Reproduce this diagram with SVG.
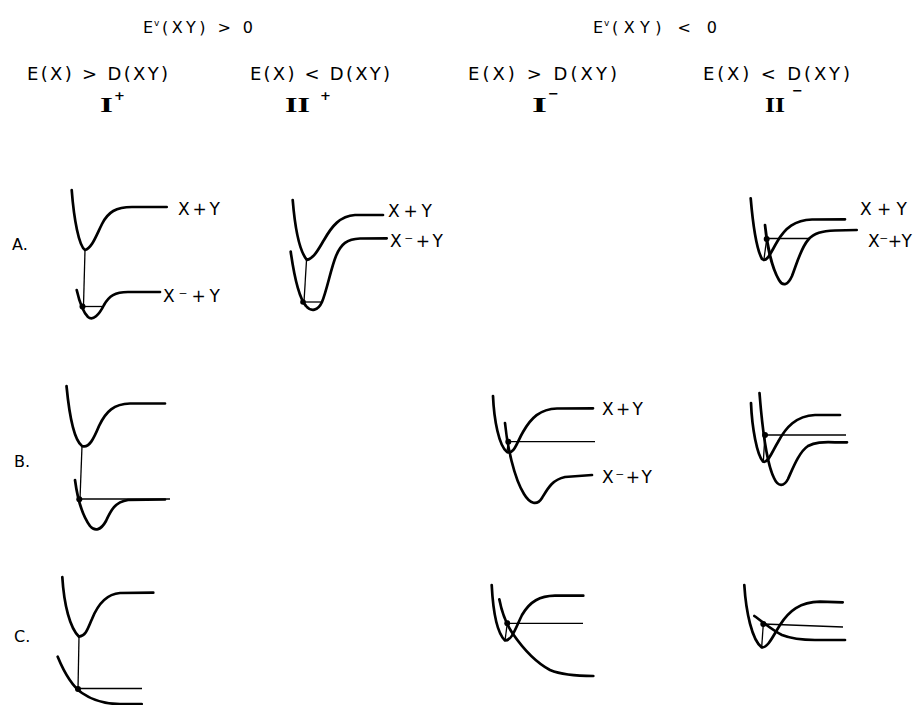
<svg xmlns="http://www.w3.org/2000/svg" width="919" height="705" viewBox="0 0 919 705">
<style>
.t{font-family:"DejaVu Sans","Liberation Sans",Arial,sans-serif;fill:#000}
.h{font-size:18px}
.hs{font-size:16px}
.lb{font-size:17px}
.rn{font-family:"Liberation Serif","DejaVu Serif",serif;font-size:21px;font-weight:bold;fill:#000}
.sup{font-family:"DejaVu Sans","Liberation Sans",sans-serif;font-size:13px;font-weight:bold;fill:#000}
.c{fill:none;stroke:#000;stroke-width:2.7;stroke-linecap:round;stroke-linejoin:round}
.l{fill:none;stroke:#000;stroke-width:1.3}
.d{fill:#000}
</style>
<rect width="919" height="705" fill="#fff"/>

<g id="headers">
  <text class="t hs" x="143" y="33">E</text>
  <text class="t" x="154" y="26" font-size="9">v</text>
  <text class="t hs" x="162" y="33" textLength="91" lengthAdjust="spacing">(XY) &gt; 0</text>
  <text class="t hs" x="593" y="33">E</text>
  <text class="t" x="604" y="26" font-size="9">v</text>
  <text class="t hs" x="612" y="33" textLength="105" lengthAdjust="spacing">(XY) &lt; 0</text>

  <text class="t h" x="27" y="80" textLength="141" lengthAdjust="spacing">E(X) &gt; D(XY)</text>
  <text class="t h" x="250" y="80" textLength="140" lengthAdjust="spacing">E(X) &lt; D(XY)</text>
  <text class="t h" x="468" y="80" textLength="149" lengthAdjust="spacing">E(X) &gt; D(XY)</text>
  <text class="t h" x="703" y="80" textLength="147" lengthAdjust="spacing">E(X) &lt; D(XY)</text>

  <text class="rn" x="100" y="112" textLength="13" lengthAdjust="spacingAndGlyphs">I</text>
  <text class="sup" x="114" y="100">+</text>
  <text class="rn" x="285" y="112" textLength="25" lengthAdjust="spacingAndGlyphs">II</text>
  <text class="sup" x="320" y="100">+</text>
  <text class="rn" x="532" y="112" textLength="15" lengthAdjust="spacingAndGlyphs">I</text>
  <text class="sup" x="548" y="98">−</text>
  <text class="rn" x="765" y="112" textLength="20" lengthAdjust="spacingAndGlyphs">II</text>
  <text class="sup" x="792" y="95">−</text>
</g>

<g id="row-labels">
  <text class="t" font-size="16" x="12" y="250">A.</text>
  <text class="t" font-size="16" x="14" y="467">B.</text>
  <text class="t" font-size="16" x="14" y="642">C.</text>
</g>

<g id="panel-A-Iplus">
  <path class="c" d="M71.7,190 C74,220 79,246 85,250 C92,248 96,236 102,224 C108,212 116,207 132,207 L166.7,207"/>
  <path class="c" d="M76.7,290 C79,300 83,312 88,317 C93,321 99,315 104,305 C109,296 115,292 128,292 L160,292"/>
  <path class="l" d="M85,250 L83.5,306"/>
  <path class="l" d="M82.5,306.5 L103,306.5"/>
  <circle class="d" cx="82.5" cy="306.5" r="3"/>
  <text class="t lb" x="178" y="215" textLength="42" lengthAdjust="spacing">X+Y</text>
  <text class="t lb" x="163" y="302" textLength="57" lengthAdjust="spacing">X⁻+Y</text>
</g>

<g id="panel-A-IIplus">
  <path class="c" d="M292.7,200 C295,228 300,252 307,260 C314,258 318,250 324,240 C332,226 340,216 355,215 L383,215"/>
  <path class="c" d="M290.7,251.7 C294,275 299,298 306,306 C311,312 318,311 322,302 C327,290 331,268 336,256 C341,244 347,239 360,238.5 L386.7,238.3"/>
  <path class="l" d="M306.5,260 L304,302"/>
  <path class="l" d="M303,302 L322,302"/>
  <circle class="d" cx="303" cy="302" r="2.8"/>
  <text class="t lb" x="388" y="217" textLength="44" lengthAdjust="spacing">X+Y</text>
  <text class="t lb" x="390" y="247" textLength="53" lengthAdjust="spacing">X⁻+Y</text>
</g>

<g id="panel-A-IIminus">
  <path class="c" d="M750.7,198.3 C753,225 757,250 762,259 C767,263 771,252 777,242 C785,228 795,220 812,219.5 L845,219.3"/>
  <path class="c" d="M765,225 C767,245 772,268 779,280 C783,287 788,285 792,276 C797,263 801,248 808,240 C814,233 822,231 835,230.5 L856.7,230"/>
  <path class="l" d="M764,259 L766.7,239"/>
  <path class="l" d="M766.7,238.5 L810,238.5"/>
  <circle class="d" cx="766.7" cy="239" r="3"/>
  <text class="t lb" x="860" y="215" textLength="47" lengthAdjust="spacing">X + Y</text>
  <text class="t lb" x="868" y="247" textLength="44" lengthAdjust="spacing">X⁻+Y</text>
</g>

<g id="panel-B-Iplus">
  <path class="c" d="M66.5,386 C69,412 74,440 82,446 C89,449 94,438 99,426 C106,411 114,404 130,403.5 L165,403.5"/>
  <path class="c" d="M75,480 C77,495 82,515 90,526 C95,532 101,530 106,521 C111,510 115,502 128,500 L165,499.5"/>
  <path class="l" d="M82,446 L80,499"/>
  <path class="l" d="M79,499 L170,499"/>
  <circle class="d" cx="79.3" cy="499.3" r="3"/>
</g>

<g id="panel-B-Iminus">
  <path class="c" d="M493,396 C494,420 499,446 507,452 C514,455 517,442 523,432 C531,418 540,409 557,408.5 L593,408.3"/>
  <path class="c" d="M505,423 C507,445 514,478 524,494 C530,504 537,506 542,498 C548,488 552,480 565,477 L592,475"/>
  <path class="l" d="M507,452 L508.3,441.7"/>
  <path class="l" d="M508.3,441.7 L595,441.7"/>
  <circle class="d" cx="508.3" cy="441.7" r="3"/>
  <text class="t lb" x="602" y="415" textLength="41" lengthAdjust="spacing">X + Y</text>
  <text class="t lb" x="602" y="483" textLength="50" lengthAdjust="spacing">X⁻+Y</text>
</g>

<g id="panel-B-IIminus">
  <path class="c" d="M751,403 C752,428 757,455 763,461.5 C768,464 772,452 778,442 C786,427 796,416 815,415 L840,415"/>
  <path class="c" d="M759.5,393 C762,425 766,462 774,478 C778,487 784,487 788,479 C793,468 799,452 808,446 C815,442 822,442 835,442.3 L847,442.3"/>
  <path class="l" d="M763.3,461.5 L765,435"/>
  <path class="l" d="M765,435 L846,435"/>
  <circle class="d" cx="765" cy="435" r="3"/>
</g>

<g id="panel-C-Iplus">
  <path class="c" d="M62.3,577 C64,605 70,628 79,636.7 C86,636 88,628 92,619 C98,604 106,594 120,593 L153.3,592.7"/>
  <path class="c" d="M57.7,656.7 C64,672 72,686 82,693 C92,700 105,704 120,704 L141.7,704"/>
  <path class="l" d="M79,637 L78,689"/>
  <path class="l" d="M78,688.5 L142,688.5"/>
  <circle class="d" cx="78" cy="689" r="3"/>
</g>

<g id="panel-C-Iminus">
  <path class="c" d="M491.7,585 C493,610 497,633 505,640.5 C512,641 516,627 522,615 C530,601 540,596 555,595.7 L583.3,595.7"/>
  <path class="c" d="M499.3,599.3 C502,613 506,624 513,634 C522,647 535,662 550,670 C562,675 575,676 593.3,676"/>
  <path class="l" d="M505,640.5 L507.3,623.3"/>
  <path class="l" d="M507.3,623.3 L583,623.3"/>
  <circle class="d" cx="507.3" cy="623.3" r="3"/>
</g>

<g id="panel-C-IIminus">
  <path class="c" d="M744.3,585 C746,612 752,640 761.7,647.3 C768,648 773,636 780,625 C789,611 800,602 820,601.7 L842.7,602.3"/>
  <path class="c" d="M754.3,616 C763,622 772,630 782,635 C792,639 800,640 815,640 L845,640"/>
  <path class="l" d="M761.7,647.3 L763.3,624"/>
  <path class="l" d="M763.3,624 L843,627"/>
  <circle class="d" cx="763.3" cy="624" r="3"/>
</g>
</svg>
